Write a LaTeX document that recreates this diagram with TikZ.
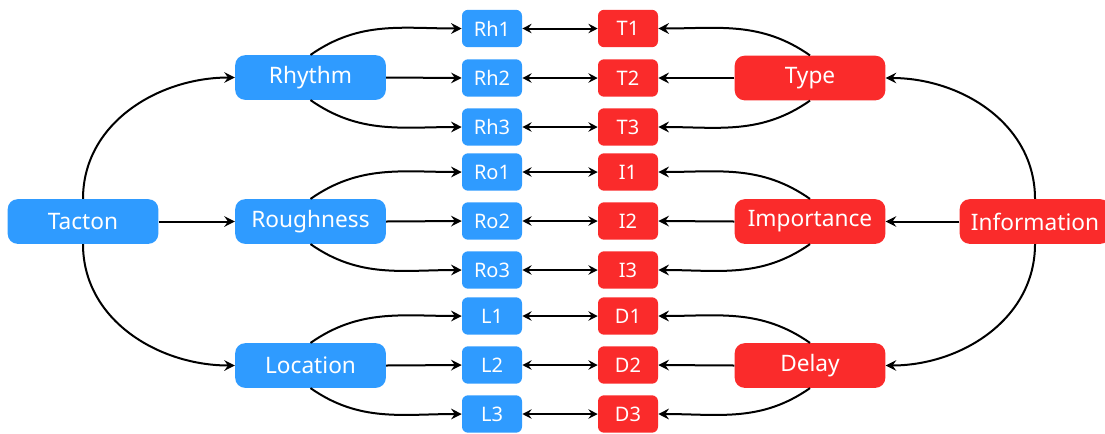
\documentclass[tikz,border=0pt]{standalone}
\usepackage{fontspec}
\setmainfont{Noto Sans}
\usetikzlibrary{arrows.meta}
\definecolor{bl}{HTML}{2F9BFF}
\definecolor{rd}{HTML}{FA2B2B}
\begin{document}
\begin{tikzpicture}[x=0.75pt,y=-0.75pt,
 big/.style={rounded corners=7.5pt, minimum width=113pt, minimum height=33.5pt, text=white, font=\fontsize{17}{19}\selectfont, inner sep=0pt},
 small/.style={rounded corners=4.5pt, minimum width=45pt, minimum height=28pt, text=white, font=\fontsize{15}{17}\selectfont, inner sep=0pt},
 bluebox/.style={fill=bl},
 redbox/.style={fill=rd},
 conn/.style={line width=1.5pt, -{Stealth[length=8pt,width=8pt,inset=2.8pt]}},
 bi/.style={line width=1.5pt, {Stealth[length=7pt,width=7pt,inset=2.5pt]}-{Stealth[length=7pt,width=7pt,inset=2.5pt]}}]
\useasboundingbox (0,0) rectangle (1105,433);
% big nodes
\node[big,bluebox] (tacton) at (83,221.5) {Tacton};
\node[big,bluebox] (rhythm) at (310.5,77.5) {Rhythm};
\node[big,bluebox] (rough) at (310.5,221.5) {Roughness};
\node[big,bluebox] (loc) at (310.5,365.5) {Location};
\node[big,redbox] (type) at (810,78) {Type};
\node[big,redbox] (imp) at (810,221.5) {Importance};
\node[big,redbox] (delay) at (810,365.5) {Delay};
\node[big,redbox] (info) at (1035,221.5) {Information};
% small nodes
\node[small,bluebox] (rh1) at (492,28.5) {Rh1};
\node[small,bluebox] (rh2) at (492,78) {Rh2};
\node[small,bluebox] (rh3) at (492,127) {Rh3};
\node[small,bluebox] (ro1) at (492,172) {Ro1};
\node[small,bluebox] (ro2) at (492,221) {Ro2};
\node[small,bluebox] (ro3) at (492,270) {Ro3};
\node[small,bluebox] (l1) at (492,316) {L1};
\node[small,bluebox] (l2) at (492,365) {L2};
\node[small,bluebox] (l3) at (492,414) {L3};
\node[small,redbox] (t1) at (628,28.5) {T1};
\node[small,redbox] (t2) at (628,78) {T2};
\node[small,redbox] (t3) at (628,127) {T3};
\node[small,redbox] (i1) at (628,172) {I1};
\node[small,redbox] (i2) at (628,221) {I2};
\node[small,redbox] (i3) at (628,270) {I3};
\node[small,redbox] (d1) at (628,316) {D1};
\node[small,redbox] (d2) at (628,365) {D2};
\node[small,redbox] (d3) at (628,414) {D3};
% Tacton edges
\draw[conn] (tacton.north) to[out=90,in=180] (rhythm.west);
\draw[conn] (tacton.east) -- (rough.west);
\draw[conn] (tacton.south) to[out=-90,in=180] (loc.west);
% Information edges
\draw[conn] (info.north) to[out=90,in=0] (type.east);
\draw[conn] (info.west) -- (imp.east);
\draw[conn] (info.south) to[out=-90,in=0] (delay.east);
% blue fan-outs
\foreach \p/\a/\b/\c in {rhythm/rh1/rh2/rh3, rough/ro1/ro2/ro3, loc/l1/l2/l3}{
  \draw[conn] (\p.north) to[out=35,in=180] (\a.west);
  \draw[conn] (\p.east) -- (\b.west);
  \draw[conn] (\p.south) to[out=-35,in=180] (\c.west);
}
% red fan-outs
\foreach \p/\a/\b/\c in {type/t1/t2/t3, imp/i1/i2/i3, delay/d1/d2/d3}{
  \draw[conn] (\p.north) to[out=145,in=0] (\a.east);
  \draw[conn] (\p.west) -- (\b.east);
  \draw[conn] (\p.south) to[out=-145,in=0] (\c.east);
}
% double arrows
\foreach \a/\b in {rh1/t1, rh2/t2, rh3/t3, ro1/i1, ro2/i2, ro3/i3, l1/d1, l2/d2, l3/d3}{
  \draw[bi] (\a.east) -- (\b.west);
}
\end{tikzpicture}
\end{document}
